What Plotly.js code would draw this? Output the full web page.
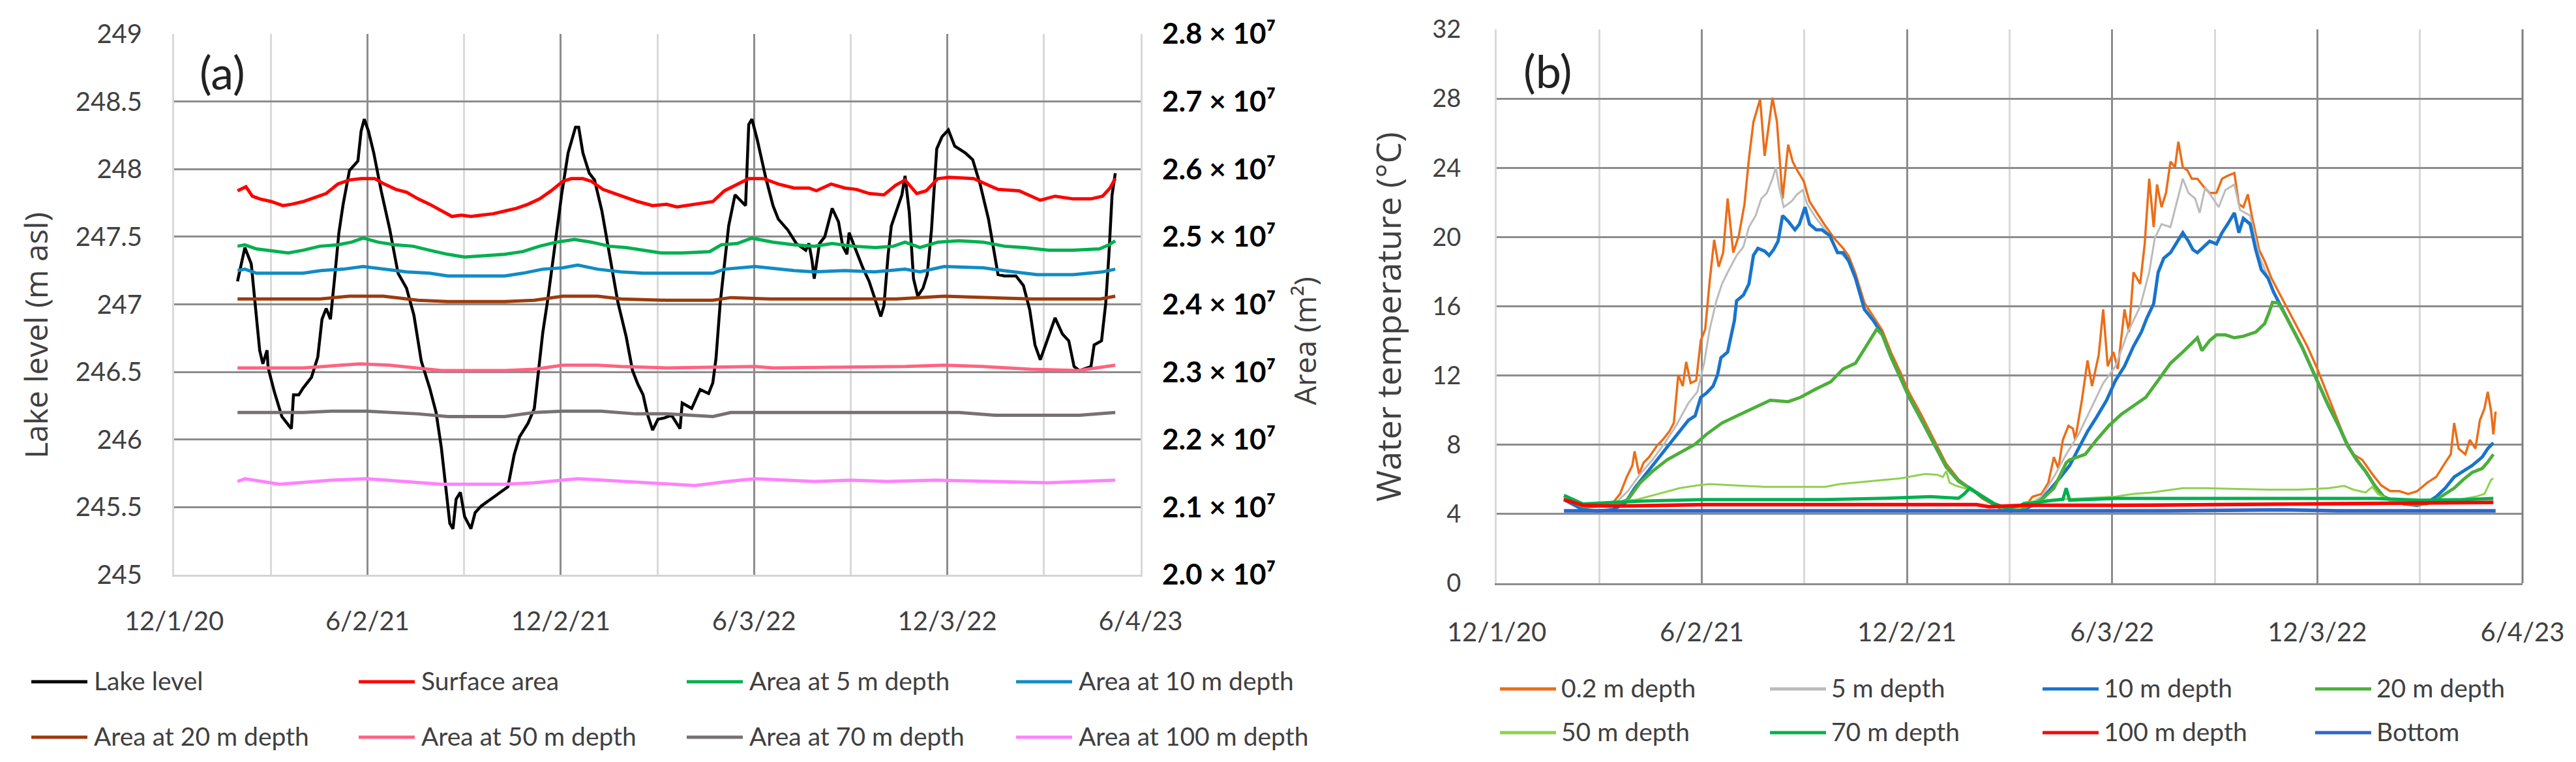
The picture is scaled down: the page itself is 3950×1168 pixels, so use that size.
<!DOCTYPE html>
<html>
<head>
<meta charset="utf-8">
<script src="https://cdn.plot.ly/plotly-3.0.1.min.js"></script>
<style>
html,body{margin:0;padding:0;background:#ffffff;}
#chart{width:3950px;height:1168px;}
</style>
</head>
<body>
<div id="chart"></div>
<script>
// ---------------- DATA ----------------
// x values are days since 2020-12-01
const baseDate = '2020-12-01';
const xTickDates = ['2020-12-01','2021-06-02','2021-12-02','2022-06-03','2022-12-03','2023-06-04'];
const xTickLabels = ['12/1/20','6/2/21','12/2/21','6/3/22','12/3/22','6/4/23'];
const xMinorDates = ['2021-03-02 12:00','2021-09-01 12:00','2022-03-03 12:00','2022-09-02 12:00','2023-03-04 12:00'];

// Panel (a) – lake level (m asl)
const levelTicks = [245,245.5,246,246.5,247,247.5,248,248.5,249];
const levelTickLabels = ['245','245.5','246','246.5','247','247.5','248','248.5','249'];
const areaTicks = [2.0e7,2.1e7,2.2e7,2.3e7,2.4e7,2.5e7,2.6e7,2.7e7,2.8e7];
const areaTickLabels = ['2.0 × 10⁷','2.1 × 10⁷','2.2 × 10⁷','2.3 × 10⁷','2.4 × 10⁷','2.5 × 10⁷','2.6 × 10⁷','2.7 × 10⁷','2.8 × 10⁷'];

const lakeLevelDays = [60,67,73,77,81,84,88,89,95,102,107,111,113,118,122,130,136,140,144,148,152,156,160,166,174,177,180,184,189,196,204,212,220,227,234,242,248,253,257,261,264,267,271,275,281,285,291,300,308,316,322,327,335,341,345,349,354,360,367,373,380,383,387,393,398,405,412,420,428,434,439,444,448,453,458,464,471,479,481,490,498,506,510,513,517,521,525,531,537,541,544,547,552,560,567,572,581,589,598,601,604,606,611,616,623,629,633,637,639,643,652,658,665,669,672,676,679,685,689,692,696,700,704,709,713,717,722,727,733,739,743,749,756,763,771,780,786,797,804,810,815,820,825,834,841,847,852,857,868,871,878,882,885,888,891];
const lakeLevel = [247.17,247.42,247.30,246.97,246.66,246.56,246.66,246.53,246.35,246.17,246.12,246.08,246.33,246.33,246.38,246.46,246.61,246.89,246.97,246.89,247.20,247.53,247.74,247.99,248.06,248.28,248.37,248.28,248.12,247.84,247.56,247.23,247.12,246.92,246.58,246.38,246.20,245.94,245.66,245.38,245.34,245.56,245.61,245.43,245.34,245.46,245.51,245.56,245.61,245.65,245.89,246.02,246.12,246.23,246.51,246.79,247.05,247.41,247.82,248.12,248.31,248.31,248.12,247.97,247.92,247.69,247.38,247.02,246.76,246.51,246.41,246.33,246.19,246.07,246.15,246.16,246.18,246.08,246.27,246.23,246.37,246.34,246.42,246.60,247.01,247.32,247.58,247.81,247.76,247.73,248.33,248.37,248.22,247.94,247.73,247.63,247.55,247.45,247.40,247.45,247.32,247.19,247.45,247.50,247.71,247.61,247.43,247.37,247.53,247.45,247.27,247.17,247.01,246.91,246.99,247.37,247.58,247.71,247.81,247.95,247.68,247.19,247.06,247.12,247.22,247.55,248.15,248.24,248.29,248.17,248.15,248.12,248.07,247.89,247.63,247.22,247.21,247.21,247.14,246.96,246.70,246.59,246.70,246.90,246.78,246.73,246.54,246.51,246.54,246.70,246.73,247.01,247.37,247.81,247.97];

// Areas (m^2)
const surfaceAreaDays = [60,68,74,81,92,103,111,122,133,144,155,166,177,190,199,210,220,231,242,253,263,272,281,291,302,313,324,335,346,357,368,376,387,395,406,417,428,439,453,466,476,493,510,521,533,544,558,572,587,601,608,622,635,646,658,672,683,692,703,712,723,734,757,768,780,800,811,820,834,851,868,879,886,891];
const surfaceArea = [2.568e7,2.574e7,2.560e7,2.556e7,2.552e7,2.546e7,2.548e7,2.552e7,2.558e7,2.564e7,2.578e7,2.584e7,2.586e7,2.586e7,2.578e7,2.570e7,2.566e7,2.556e7,2.548e7,2.538e7,2.530e7,2.532e7,2.530e7,2.532e7,2.534e7,2.538e7,2.542e7,2.548e7,2.556e7,2.568e7,2.582e7,2.586e7,2.586e7,2.582e7,2.570e7,2.564e7,2.558e7,2.552e7,2.546e7,2.548e7,2.544e7,2.548e7,2.552e7,2.568e7,2.578e7,2.586e7,2.586e7,2.578e7,2.572e7,2.572e7,2.568e7,2.578e7,2.572e7,2.570e7,2.564e7,2.562e7,2.576e7,2.584e7,2.564e7,2.568e7,2.586e7,2.588e7,2.586e7,2.578e7,2.570e7,2.568e7,2.560e7,2.554e7,2.560e7,2.556e7,2.556e7,2.560e7,2.572e7,2.586e7];

const area5Days = [60,67,78,95,108,122,138,155,168,179,193,209,226,242,259,275,297,313,330,346,362,379,395,412,428,444,461,481,507,518,533,547,567,587,606,623,643,664,681,692,706,723,743,766,786,805,828,851,876,885,891];
const area5 = [2.486e7,2.488e7,2.482e7,2.478e7,2.476e7,2.480e7,2.486e7,2.488e7,2.492e7,2.498e7,2.492e7,2.488e7,2.486e7,2.480e7,2.474e7,2.470e7,2.472e7,2.474e7,2.478e7,2.486e7,2.492e7,2.496e7,2.492e7,2.486e7,2.484e7,2.480e7,2.476e7,2.476e7,2.478e7,2.488e7,2.490e7,2.498e7,2.492e7,2.488e7,2.486e7,2.490e7,2.486e7,2.484e7,2.486e7,2.492e7,2.484e7,2.492e7,2.494e7,2.492e7,2.486e7,2.484e7,2.480e7,2.480e7,2.482e7,2.488e7,2.494e7];

const area10Days = [60,67,78,95,122,139,160,179,198,220,242,259,286,313,330,349,368,382,401,423,444,466,510,521,550,587,606,635,663,692,706,729,766,785,817,851,879,891];
const area10 = [2.450e7,2.452e7,2.446e7,2.446e7,2.446e7,2.450e7,2.452e7,2.456e7,2.452e7,2.448e7,2.446e7,2.442e7,2.442e7,2.442e7,2.446e7,2.452e7,2.454e7,2.458e7,2.452e7,2.448e7,2.446e7,2.446e7,2.446e7,2.452e7,2.456e7,2.450e7,2.448e7,2.450e7,2.448e7,2.452e7,2.448e7,2.456e7,2.454e7,2.450e7,2.444e7,2.444e7,2.448e7,2.452e7];

const area20Days = [60,138,166,198,231,259,313,341,368,401,423,466,510,527,564,604,684,729,766,812,877,891];
const area20 = [2.408e7,2.408e7,2.412e7,2.412e7,2.406e7,2.404e7,2.404e7,2.406e7,2.412e7,2.412e7,2.408e7,2.406e7,2.406e7,2.410e7,2.408e7,2.408e7,2.408e7,2.412e7,2.410e7,2.408e7,2.408e7,2.412e7];

const area50Days = [60,122,176,204,253,313,341,368,401,423,466,550,567,692,729,766,811,856,891];
const area50 = [2.306e7,2.306e7,2.312e7,2.310e7,2.302e7,2.302e7,2.304e7,2.310e7,2.310e7,2.308e7,2.306e7,2.308e7,2.306e7,2.308e7,2.310e7,2.308e7,2.304e7,2.302e7,2.310e7];

const area70Days = [60,122,149,182,231,259,286,313,341,368,404,437,466,510,527,590,607,641,686,743,777,857,891];
const area70 = [2.240e7,2.240e7,2.242e7,2.242e7,2.238e7,2.234e7,2.234e7,2.234e7,2.240e7,2.242e7,2.242e7,2.238e7,2.238e7,2.234e7,2.240e7,2.240e7,2.240e7,2.240e7,2.240e7,2.240e7,2.236e7,2.236e7,2.240e7];

const area100Days = [60,67,100,149,182,215,253,313,341,382,423,461,493,524,550,606,641,675,720,776,827,891];
const area100 = [2.138e7,2.142e7,2.134e7,2.140e7,2.142e7,2.138e7,2.134e7,2.134e7,2.136e7,2.142e7,2.138e7,2.134e7,2.132e7,2.138e7,2.142e7,2.138e7,2.140e7,2.138e7,2.140e7,2.138e7,2.136e7,2.140e7];

const seriesNamesA = ['Lake level','Surface area','Area at 5 m depth','Area at 10 m depth','Area at 20 m depth','Area at 50 m depth','Area at 70 m depth','Area at 100 m depth'];

// Panel (b) – water temperature (°C)
const tempTicks = [0,4,8,12,16,20,24,28,32];

const t02Days = [60,66,77,90,104,110,116,121,123,127,131,136,143,148,154,158,162,166,169,173,178,182,186,190,194,198,202,206,211,216,221,225,229,235,239,243,246,250,255,260,264,268,274,279,287,293,301,309,314,320,328,336,344,352,360,368,379,390,401,412,422,433,444,452,458,467,
  470,478,486,492,497,501,505,510,514,516,522,527,531,537,541,545,550,554,560,564,568,574,578,582,586,589,593,597,601,605,608,612,616,620,625,631,636,642,647,652,658,662,666,670,674,680,685,691,699,707,715,723,732,740,748,756,764,772,781,789,797,805,813,821,830,838,846,851,854,858,864,868,873,877,881,884,887,889,891];
const t02 = [5.00,4.67,4.42,4.50,4.67,5.16,6.14,6.80,7.62,6.31,6.96,7.29,7.95,8.28,8.77,9.26,12.05,11.39,12.79,11.56,11.72,14.02,14.68,17.46,19.84,18.28,19.10,22.22,19.10,20.09,21.90,24.52,26.65,27.97,24.69,26.65,28.05,26.65,22.22,25.34,24.36,23.86,23.21,22.06,21.24,20.66,19.93,19.35,18.90,17.90,16.20,15.40,14.60,13.30,12.20,11.00,9.70,8.30,6.90,6.00,5.50,4.90,4.50,4.20,4.30,4.50,
  4.34,5.00,5.16,5.81,7.29,6.63,8.28,9.10,8.93,8.28,10.59,12.87,11.39,13.20,15.82,12.54,13.36,12.38,15.82,14.51,17.96,17.30,19.60,23.37,20.58,23.04,21.73,22.55,24.36,24.03,25.51,24.03,23.86,23.37,23.37,22.88,22.55,22.55,23.37,23.54,23.70,21.90,21.73,22.47,21.08,19.27,18.61,17.63,16.64,15.66,14.68,13.69,12.38,11.06,9.75,8.44,7.45,7.13,6.31,5.65,5.32,5.32,5.16,5.32,5.81,6.14,6.96,7.45,9.26,7.78,7.45,8.28,7.78,9.42,10.08,11.06,9.92,8.60,9.92];

const t5Days = [60,77,104,117,128,139,150,160,171,179,185,190,196,201,206,214,220,225,231,236,241,246,249,252,256,263,268,273,277,285,293,304,314,320,328,336,344,352,360,368,379,390,401,412,422,433,444,452,458,467,
  470,486,497,508,519,530,541,552,563,574,582,587,593,601,606,612,617,623,627,632,639,644,650,658,663,672,680,688,693,702,710,718,726,734,742,751,759,767,775,783,791,800,810,821,830,838,846,854,862,870,879,884,889];
const t5 = [4.91,4.34,4.50,5.32,6.31,7.13,8.11,9.10,10.41,11.06,12.71,14.68,16.32,17.30,17.96,18.94,19.43,20.58,21.24,22.22,22.55,23.37,24.03,22.88,21.73,22.06,22.47,22.72,21.90,21.08,20.42,19.20,18.65,17.70,15.90,15.25,14.40,13.10,11.95,10.80,9.50,8.15,6.80,5.95,5.50,5.00,4.60,4.25,4.20,4.40,
  4.34,5.00,6.14,7.45,8.60,10.08,11.56,12.54,14.51,15.99,17.96,19.93,20.75,20.58,21.90,23.37,22.55,22.22,21.40,22.88,22.22,21.73,22.72,23.04,21.57,21.24,18.94,17.70,16.90,15.70,14.70,13.70,12.60,11.40,10.30,9.15,8.00,7.20,6.50,5.70,5.05,4.80,4.60,4.50,4.65,4.98,5.45,6.10,6.45,6.75,7.25,7.75,8.05];

const t10Days = [60,69,77,90,104,115,123,131,139,147,155,163,171,177,182,187,193,197,200,206,212,214,220,225,229,233,239,243,247,251,255,260,266,270,275,279,285,290,297,304,309,314,320,328,336,344,352,360,368,379,390,401,412,422,433,444,452,458,467,
  470,478,486,495,503,511,519,527,535,544,552,560,568,575,580,586,590,595,601,606,612,617,621,625,631,636,642,647,652,658,662,666,672,677,682,688,693,702,710,718,726,734,742,751,759,767,775,783,791,800,810,821,830,838,846,854,862,870,879,884,889];
const t10 = [4.83,4.50,4.25,4.17,4.25,4.67,5.49,6.14,6.80,7.45,8.11,8.77,9.42,9.67,10.74,10.98,11.39,12.05,13.03,13.36,15.17,16.32,16.64,17.30,18.94,19.35,19.19,18.94,19.27,19.76,21.24,20.91,20.42,20.75,21.73,20.75,20.42,20.42,20.09,19.10,19.10,18.61,17.63,15.82,15.17,14.35,13.03,11.89,10.74,9.42,8.11,6.72,5.90,5.49,5.00,4.59,4.25,4.17,4.34,
  4.25,4.50,4.83,5.49,6.14,6.80,7.78,8.77,9.59,10.57,11.72,12.54,13.69,14.51,15.33,16.15,17.96,18.78,19.10,19.60,20.25,19.76,19.27,19.10,19.43,19.76,19.60,20.25,20.75,21.40,20.25,21.08,20.75,19.27,18.12,17.63,16.81,15.66,14.68,13.69,12.54,11.39,10.24,9.10,7.95,7.13,6.47,5.65,5.00,4.75,4.58,4.50,4.67,5.00,5.49,6.14,6.47,6.80,7.29,7.78,8.11];

const t20Days = [60,77,104,117,128,139,152,166,177,187,201,217,233,244,260,271,285,298,309,320,328,336,339,344,352,360,368,379,390,401,412,422,433,444,452,458,467,
  470,486,497,508,511,525,535,546,557,568,579,590,601,612,623,625,629,636,642,650,658,666,677,685,689,692,697,702,710,718,726,734,742,751,759,767,775,783,791,800,810,821,830,838,846,854,862,870,879,884,889];
const t20 = [4.91,4.42,4.50,4.83,5.81,6.47,7.13,7.62,8.03,8.60,9.26,9.75,10.24,10.57,10.49,10.74,11.23,11.64,12.38,12.71,13.53,14.35,14.68,14.35,13.03,11.89,10.74,9.42,8.11,6.72,5.90,5.49,5.00,4.59,4.25,4.17,4.34,
  4.34,4.83,5.49,6.96,7.13,7.45,8.28,9.10,9.75,10.24,10.74,11.72,12.71,13.36,14.02,14.18,13.44,14.02,14.35,14.35,14.18,14.27,14.51,15.00,15.66,16.23,16.20,15.66,14.68,13.69,12.54,11.39,10.24,9.10,7.95,7.13,6.47,5.65,5.00,4.75,4.58,4.55,4.60,4.83,5.16,5.49,5.98,6.40,6.63,7.00,7.45];

const t50Days = [60,77,104,125,144,163,179,190,212,239,266,293,306,333,360,382,393,398,401,404,409,417,422,433,444,452,458,467,
  470,497,524,552,568,584,612,633,661,688,715,742,756,764,775,781,786,797,824,851,873,881,887,889];
const t50 = [5.00,4.50,4.67,4.83,5.16,5.49,5.65,5.73,5.65,5.57,5.57,5.57,5.73,5.90,6.06,6.31,6.27,6.14,6.47,5.81,5.65,5.49,5.40,5.00,4.60,4.30,4.20,4.34,
  4.67,4.83,4.91,5.00,5.16,5.24,5.49,5.49,5.45,5.41,5.41,5.49,5.62,5.41,5.24,5.57,5.16,4.75,4.67,4.75,5.00,5.16,5.98,6.06];

const t70Days = [60,77,104,131,185,239,293,347,387,412,417,422,433,444,455,467,
  470,497,505,508,511,552,633,715,783,824,865,889];
const t70 = [5.08,4.58,4.67,4.75,4.83,4.83,4.83,4.91,5.00,4.91,5.16,5.49,5.00,4.59,4.34,4.50,
  4.58,4.80,4.85,5.49,4.80,4.90,4.90,4.90,4.90,4.80,4.83,4.90];

const t100Days = [60,77,104,131,185,266,347,428,439,467,470,552,633,715,797,889];
const t100 = [4.83,4.50,4.46,4.50,4.54,4.54,4.54,4.54,4.42,4.50,4.50,4.50,4.54,4.54,4.58,4.67];

const tBottomDays = [60,150,300,450,600,700,750,891];
const tBottom = [4.18,4.18,4.18,4.16,4.18,4.24,4.18,4.18];

const seriesNamesB = ['0.2 m depth','5 m depth','10 m depth','20 m depth','50 m depth','70 m depth','100 m depth','Bottom'];

// ---------------- STYLE ----------------
const W = 3950, H = 1168;
const pxX = x => x / W;
const pxY = y => 1 - y / H;
const toDate = d => new Date(Date.parse(baseDate + 'T00:00:00Z') + d * 86400000).toISOString().slice(0, 10);
const dates = arr => arr.map(toDate);

const colorsA = ['#000000','#FF0000','#00B050','#108CC4','#9C3B0C','#FF6381','#777171','#FF82FF'];
const widthsA = [4.5,5,5,5,5,5,5,5];
const colorsB = ['#EC6D17','#BBBBBB','#1874CD','#4CAF3A','#8FD14F','#00B050','#FF0000','#2B66CC'];
const widthsB = [3.5,3,5,5,3,5,5.5,5.5];

const TICKFONT = 'Lato, "Liberation Sans", sans-serif';
const TITLEFONT = '"Open Sans", "Noto Sans", sans-serif';
const TXT = '#404040';
const GRID = '#8c8c8c';
const MINOR = '#d9d9d9';

const aX = [[lakeLevelDays, lakeLevel],[surfaceAreaDays, surfaceArea],[area5Days, area5],[area10Days, area10],[area20Days, area20],[area50Days, area50],[area70Days, area70],[area100Days, area100]];
const bX = [[t02Days,t02],[t5Days,t5],[t10Days,t10],[t20Days,t20],[t50Days,t50],[t70Days,t70],[t100Days,t100],[tBottomDays,tBottom]];

const traces = [];
aX.forEach((s, i) => {
  traces.push({
    type: 'scatter', mode: 'lines', name: seriesNamesA[i],
    x: dates(s[0]), y: s[1],
    xaxis: 'x', yaxis: i === 0 ? 'y' : 'y3',
    line: {color: colorsA[i], width: widthsA[i]},
    showlegend: false, hoverinfo: 'skip'
  });
});
bX.forEach((s, i) => {
  traces.push({
    type: 'scatter', mode: 'lines', name: seriesNamesB[i],
    x: dates(s[0]), y: s[1],
    xaxis: 'x2', yaxis: 'y2',
    line: {color: colorsB[i], width: widthsB[i]},
    showlegend: false, hoverinfo: 'skip'
  });
});

const dateAxis = (domain, anchor, lineColor, standoff) => ({
  domain: domain, anchor: anchor, type: 'date',
  range: [xTickDates[0], xTickDates[xTickDates.length - 1]],
  tickmode: 'array', tickvals: xTickDates, ticktext: xTickLabels,
  ticks: '', showgrid: true, gridcolor: GRID, gridwidth: 3,
  minor: {tickmode: 'array', tickvals: xMinorDates, showgrid: true, gridcolor: MINOR, gridwidth: 3, ticks: ''},
  showline: true, linecolor: lineColor, linewidth: 3, zeroline: false,
  tickfont: {family: TICKFONT, size: 40, color: TXT},
  ticklabelstandoff: standoff, fixedrange: true
});

const layout = {
  width: W, height: H,
  margin: {l: 0, r: 0, t: 0, b: 0, pad: 0},
  paper_bgcolor: '#ffffff', plot_bgcolor: '#ffffff',
  showlegend: false, hovermode: false,
  xaxis: dateAxis([pxX(267), pxX(1749)], 'y', '#d4d4d4', 34),
  yaxis: {
    domain: [pxY(881), pxY(52)], anchor: 'x', range: [245, 249],
    tickmode: 'array', tickvals: levelTicks, ticktext: levelTickLabels,
    ticks: '', showgrid: true, gridcolor: GRID, gridwidth: 3,
    showline: true, linecolor: '#d9d9d9', linewidth: 3, mirror: true, zeroline: false,
    tickfont: {family: TICKFONT, size: 40, color: TXT}, ticklabelstandoff: 38, fixedrange: true
  },
  yaxis3: {
    overlaying: 'y', side: 'right', anchor: 'x', range: [2.0e7, 2.8e7],
    tickmode: 'array', tickvals: areaTicks, ticktext: areaTickLabels,
    ticks: '', showgrid: false, showline: false, zeroline: false,
    tickfont: {family: TICKFONT, size: 44, color: '#000000', weight: 700}, ticklabelstandoff: 32, fixedrange: true
  },
  xaxis2: dateAxis([pxX(2295), pxX(3868)], 'y2', '#8c8c8c', 38),
  yaxis2: {
    domain: [pxY(894), pxY(45)], anchor: 'x2', range: [0, 32],
    tickmode: 'array', tickvals: tempTicks,
    ticks: '', showgrid: true, gridcolor: GRID, gridwidth: 3,
    showline: true, linecolor: '#d9d9d9', linewidth: 3, zeroline: false,
    tickfont: {family: TICKFONT, size: 38, color: TXT}, ticklabelstandoff: 44, fixedrange: true
  },
  shapes: [
    // right border of panel (b)
    {type: 'line', xref: 'x2 domain', yref: 'y2 domain', x0: 1, x1: 1, y0: 0, y1: 1, line: {color: '#7f7f7f', width: 3}}
  ],
  annotations: [
    {text: '(a)', xref: 'paper', yref: 'paper', x: pxX(341), y: pxY(110), xanchor: 'center', yanchor: 'middle', showarrow: false, font: {family: TICKFONT, size: 70, color: '#222222'}},
    {text: '(b)', xref: 'paper', yref: 'paper', x: pxX(2373), y: pxY(108), xanchor: 'center', yanchor: 'middle', showarrow: false, font: {family: TICKFONT, size: 70, color: '#222222'}},
    {text: 'Lake level (m asl)', xref: 'paper', yref: 'paper', x: pxX(55), y: pxY(514), textangle: -90, xanchor: 'center', yanchor: 'middle', showarrow: false, font: {family: TITLEFONT, size: 48, color: TXT}},
    {text: 'Area (m²)', xref: 'paper', yref: 'paper', x: pxX(2000), y: pxY(523), textangle: -90, xanchor: 'center', yanchor: 'middle', showarrow: false, font: {family: TITLEFONT, size: 46, color: TXT}},
    {text: 'Water temperature (°C)', xref: 'paper', yref: 'paper', x: pxX(2128), y: pxY(486), textangle: -90, xanchor: 'center', yanchor: 'middle', showarrow: false, font: {family: TITLEFONT, size: 52, color: TXT}}
  ]
};

// Legends drawn as line samples + labels
const legendA = {cols: [48, 550, 1053, 1558], rows: [1045, 1130], len: 86, gap: 8};
const legendB = {cols: [2300, 2714, 3132, 3550], rows: [1056, 1123], len: 86, gap: 6};
function addLegend(spec, names, colors) {
  names.forEach((n, i) => {
    const cx = spec.cols[i % 4], cy = spec.rows[Math.floor(i / 4)];
    layout.shapes.push({type: 'line', xref: 'paper', yref: 'paper', x0: pxX(cx), x1: pxX(cx + spec.len), y0: pxY(cy), y1: pxY(cy), line: {color: colors[i], width: 5}});
    layout.annotations.push({text: n, xref: 'paper', yref: 'paper', x: pxX(cx + spec.len + spec.gap), y: pxY(cy - 2), xanchor: 'left', yanchor: 'middle', showarrow: false, font: {family: TICKFONT, size: 39, color: TXT}});
  });
}
addLegend(legendA, seriesNamesA, colorsA);
addLegend(legendB, seriesNamesB, colorsB);

Plotly.newPlot('chart', traces, layout, {staticPlot: true, displayModeBar: false});
</script>
</body>
</html>
